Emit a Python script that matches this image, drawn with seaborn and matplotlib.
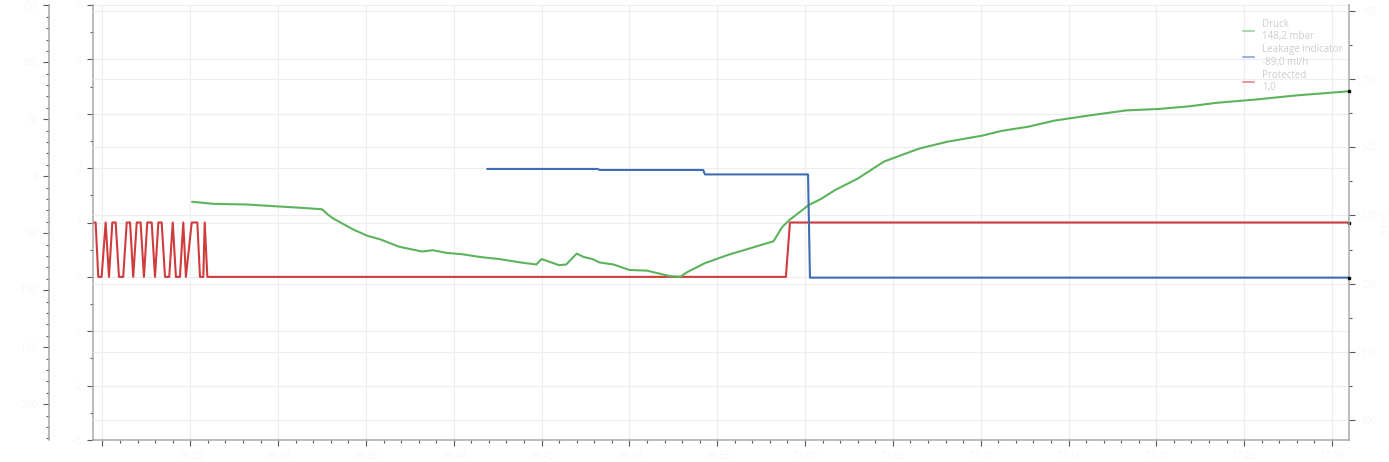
import pandas as pd
import seaborn as sns
import matplotlib
matplotlib.use('Agg')
from matplotlib import pyplot as plt
from matplotlib.lines import Line2D
from matplotlib.ticker import MultipleLocator, FuncFormatter

# time in minutes after 16:20
druck_t = [5.1, 6.3, 8.2, 10.1, 11.4, 12.5, 12.8, 13.1, 14.3, 15.1, 15.8, 16.9, 18.2, 18.8,
           19.6, 20.5, 21.5, 22.6, 23.8, 24.7, 25.0, 26.0, 26.4, 27.0, 27.4, 27.9, 28.3,
           29.1, 30.0, 31.0, 32.3, 32.9, 33.3, 34.3, 35.6, 36.9, 38.2, 38.7, 39.1, 40.2,
           40.9, 41.7, 43.0, 44.5, 46.5, 48.1, 50.1, 51.2, 52.7, 54.2, 56.3, 58.3, 60.1,
           61.9, 63.4, 65.7, 68.0, 70.97]
druck_v = [132.0, 131.7, 131.6, 131.3, 131.1, 130.9, 130.2, 129.6, 127.9, 127.0, 126.5,
           125.4, 124.7, 124.9, 124.5, 124.3, 123.9, 123.6, 123.1, 122.8, 123.6, 122.7,
           122.8, 124.4, 123.9, 123.6, 123.1, 122.8, 122.0, 121.9, 121.1, 121.0, 121.7,
           123.0, 124.2, 125.2, 126.2, 128.3, 129.3, 131.5, 132.4, 133.7, 135.4, 137.9,
           139.8, 140.8, 141.7, 142.4, 143.0, 143.9, 144.7, 145.4, 145.6, 146.0, 146.5,
           147.0, 147.6, 148.2]

leak_t = [21.9, 28.2, 28.3, 34.2, 34.3, 40.17, 40.28, 70.97]
leak_v = [6.4, 6.4, 5.5, 5.5, 1.6, 1.6, -89.0, -89.0]

prot_t = [-0.50, -0.39, -0.24, -0.05, 0.18, 0.37, 0.56, 0.75, 0.94, 1.18, 1.38, 1.57,
          1.75, 1.95, 2.17, 2.36, 2.55, 2.80, 2.99, 3.18, 3.37, 3.56, 3.80, 4.00, 4.18,
          4.41, 4.60, 4.75, 5.08, 5.40, 5.55, 5.74, 5.82, 5.97, 38.91, 39.14, 70.97]
prot_v = [1, 1, 0, 0, 1, 0, 1, 1, 0, 0, 1, 1, 0, 1, 1, 0, 1, 1, 0, 1, 1, 0, 0, 1, 0,
          0, 1, 0, 1, 1, 0, 0, 1, 0, 0, 1, 1]

series_names = ['Druck', 'Leakage indicator', 'Protected']
series_last = ['148,2 mbar', '-89,0 ml/h', '1,0']

druck = pd.DataFrame({'t': druck_t, 'v': druck_v})
leak = pd.DataFrame({'t': leak_t, 'v': leak_v})
prot = pd.DataFrame({'t': prot_t, 'v': prot_v})

sns.set_style('ticks')
plt.rcParams['font.family'] = ['Open Sans', 'DejaVu Sans']

green = '#5cb35c'
blue = '#3f6cb5'
red = '#d03c3c'
faint = '#f6f6f6'
spine_c = '#a8a8a8'
tick_c = '#5a5a5a'
grid_c = '#ececf2'

fig = plt.figure(figsize=(13.89, 4.62), dpi=100)
ax = fig.add_axes([93 / 1389, 22 / 462, 1256 / 1389, 435 / 462])
ax_r = ax.twinx()
ax_l = ax.twinx()
ax_l.spines['left'].set_position(('outward', 44 * 0.72))
ax_l.yaxis.set_ticks_position('left')
ax_l.yaxis.set_label_position('left')

sns.lineplot(data=prot, x='t', y='v', ax=ax, color=red, lw=1.5,
             estimator=None, sort=False)
sns.lineplot(data=druck, x='t', y='v', ax=ax_r, color=green, lw=1.5,
             estimator=None, sort=False)
sns.lineplot(data=leak, x='t', y='v', ax=ax_l, color=blue, lw=1.5,
             estimator=None, sort=False)

for a, df in [(ax, prot), (ax_r, druck), (ax_l, leak)]:
    a.plot(df['t'].iloc[-1], df['v'].iloc[-1], 's', ms=1.6, color='black',
           clip_on=False, zorder=5)

ax.set_xlim(-0.54, 70.97)
ax.set_ylim(-3, 5)
ax_r.set_ylim(97.07, 160.85)
ax_l.set_ylim(-231.5, 150.3)


def time_label(t, pos):
    if round(t) <= 0:
        return ''
    return '%d:%02d' % divmod(16 * 60 + 20 + int(round(t)), 60)


ax.xaxis.set_major_locator(MultipleLocator(5))
ax.xaxis.set_minor_locator(MultipleLocator(1))
ax.xaxis.set_major_formatter(FuncFormatter(time_label))
ax.yaxis.set_major_locator(MultipleLocator(1))
ax.yaxis.set_minor_locator(MultipleLocator(0.5))
ax_r.yaxis.set_major_locator(MultipleLocator(10))
ax_r.yaxis.set_minor_locator(MultipleLocator(5))
ax_l.yaxis.set_major_locator(MultipleLocator(50))
ax_l.yaxis.set_minor_locator(MultipleLocator(10))

ax.grid(True, which='major', color=grid_c, lw=0.8)
ax_r.grid(True, axis='y', which='major', color=grid_c, lw=0.8)
ax.set_axisbelow(True)

for a in (ax, ax_r, ax_l):
    a.set_xlabel('')
    a.set_ylabel('')
    for s in a.spines.values():
        s.set_visible(False)
        s.set_color(spine_c)
        s.set_linewidth(1.1)
    a.tick_params(which='major', length=4.3, width=0.8, color=tick_c,
                  labelsize=7, labelcolor=faint)
    a.tick_params(which='minor', length=2.2, width=0.8, color=tick_c)

ax.spines['left'].set_visible(True)
ax.spines['bottom'].set_visible(True)
ax_r.spines['right'].set_visible(True)
ax_l.spines['left'].set_visible(True)
ax_l.set_ylabel('ml/h', color=faint, fontsize=7)
ax_r.set_ylabel('mbar', color=faint, fontsize=7)
ax_l.yaxis.set_label_coords(-38 / 1256 - 0.0, 0.5)
ax_r.yaxis.set_label_coords(1 + 30 / 1256, 0.5)

handles = [Line2D([], [], color=c, lw=1.5, alpha=0.5) for c in (green, blue, red)]
labels = [n + '\n' + v for n, v in zip(series_names, series_last)]
fig.legend(handles, labels, loc='upper left', bbox_to_anchor=(1234 / 1389, 1 - 10 / 462),
           frameon=False, fontsize=7, labelcolor='#cdcdcd', handlelength=1.2,
           handletextpad=0.8, labelspacing=0.2)

fig.savefig('out.png', dpi=100)
